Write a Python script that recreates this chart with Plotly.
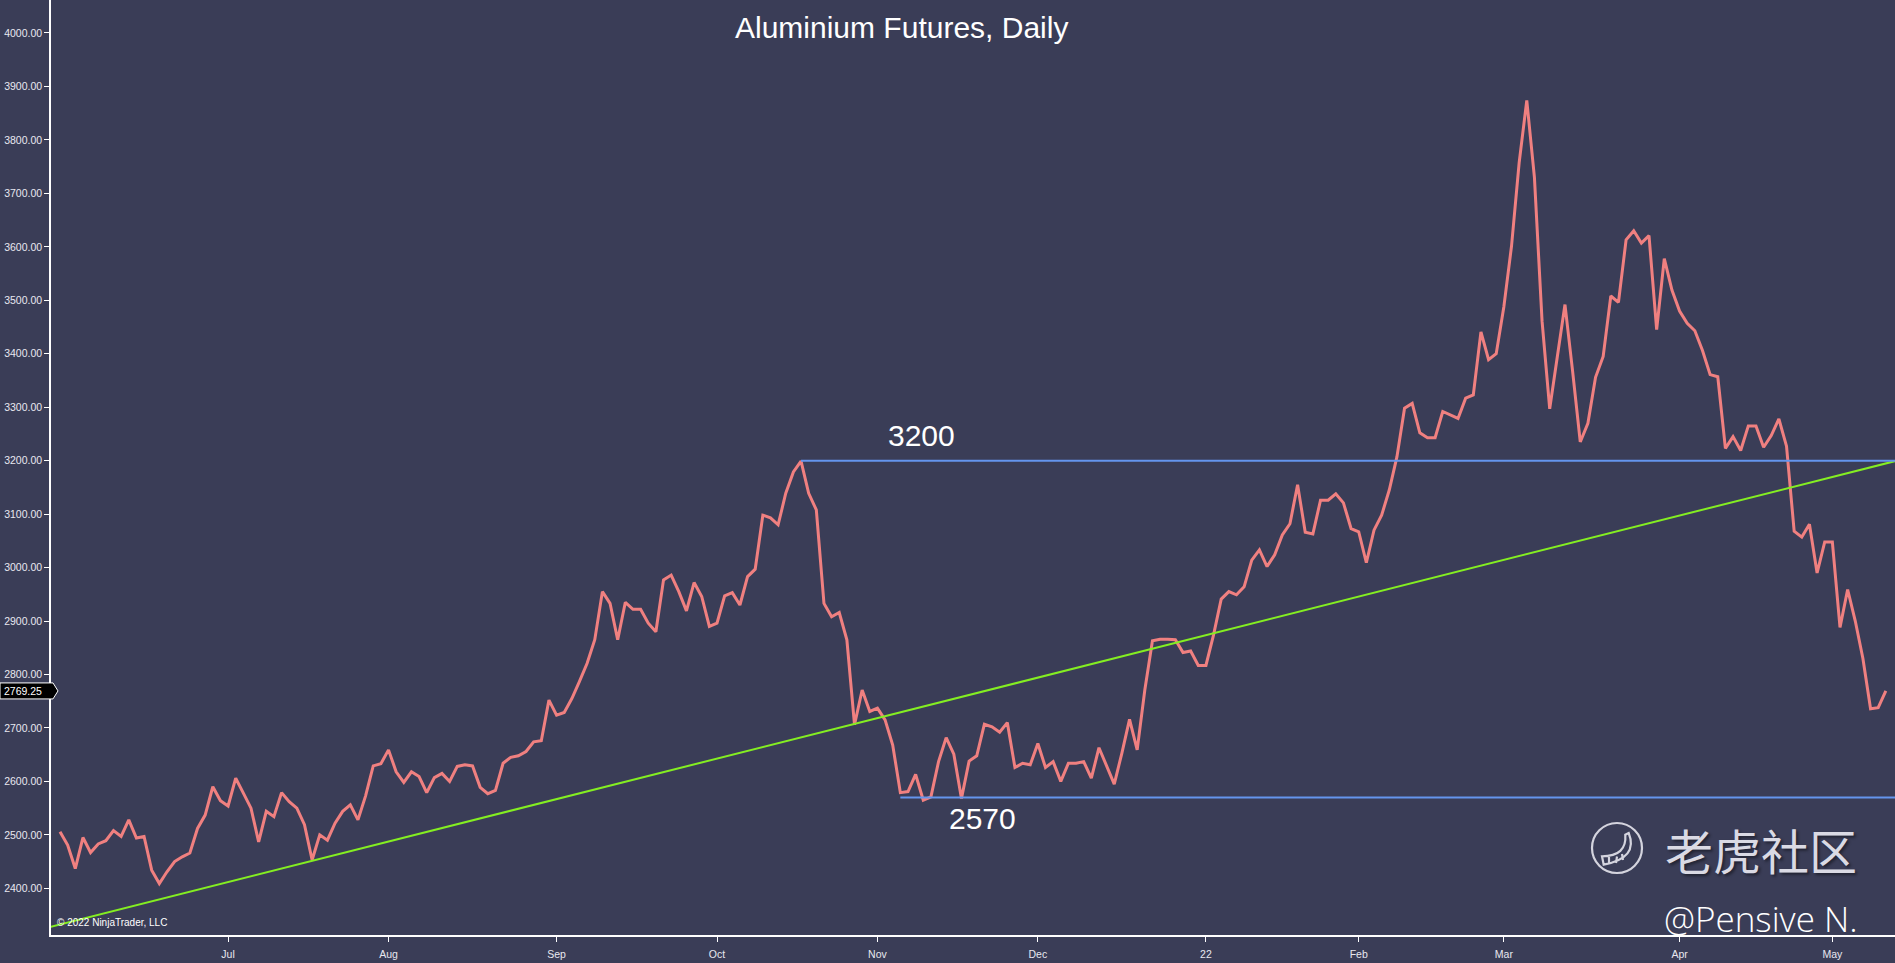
import pandas as pd
import plotly.graph_objects as go

BG = "#3a3d57"
PRICE_COLOR = "#f08080"
TREND_COLOR = "#84ee22"
LEVEL_COLOR = "#6495ed"
FONT = "Arial, Liberation Sans, sans-serif"

# trading calendar (weekdays minus US exchange holidays)
START_DAY = "2021-06-01"
END_DAY = "2022-05-11"
HOLIDAYS = ["2021-07-05", "2021-09-06", "2021-11-25", "2021-12-24",
            "2022-01-17", "2022-02-21", "2022-04-15"]
MONTH_TICK_TEXT = ["Jul", "Aug", "Sep", "Oct", "Nov", "Dec", "22", "Feb", "Mar", "Apr", "May"]

# daily close
CLOSE = [
    2506, 2481, 2437, 2495, 2467, 2483, 2489, 2508, 2497, 2528,
    2494, 2497, 2434, 2409, 2431, 2450, 2459, 2466, 2512, 2537,
    2590, 2564, 2554, 2606, 2578, 2550, 2487, 2544, 2534, 2579,
    2562, 2550, 2519, 2453, 2500, 2490, 2522, 2544, 2556, 2528,
    2573, 2629, 2633, 2659, 2618, 2598, 2618, 2609, 2579, 2607,
    2615, 2600, 2628, 2631, 2629, 2589, 2577, 2583, 2634, 2645,
    2648, 2656, 2674, 2676, 2752, 2724, 2729, 2755, 2787, 2821,
    2865, 2955, 2933, 2865, 2935, 2922, 2922, 2896, 2880, 2977,
    2986, 2955, 2919, 2972, 2946, 2890, 2896, 2947, 2953, 2930,
    2983, 2997, 3098, 3093, 3080, 3139, 3179, 3199, 3139, 3108,
    2933, 2908, 2916, 2865, 2706, 2771, 2731, 2737, 2715, 2668,
    2579, 2581, 2613, 2565, 2571, 2637, 2682, 2651, 2568, 2638,
    2648, 2707, 2702, 2692, 2710, 2626, 2634, 2631, 2671, 2626,
    2637, 2600, 2634, 2634, 2637, 2606, 2663, 2628, 2595, 2653,
    2716, 2659, 2771, 2863, 2866, 2866, 2865, 2841, 2844, 2817,
    2817, 2874, 2941, 2955, 2949, 2964, 3014, 3033, 3002, 3024,
    3061, 3082, 3155, 3066, 3063, 3126, 3126, 3138, 3121, 3073,
    3067, 3009, 3070, 3098, 3145, 3207, 3298, 3307, 3252, 3243,
    3243, 3292, 3285, 3279, 3317, 3323, 3441, 3389, 3400, 3488,
    3601, 3757, 3874, 3730, 3461, 3297, 3395, 3492, 3367, 3235,
    3270, 3356, 3395, 3508, 3496, 3613, 3630, 3607, 3621, 3445,
    3578, 3519, 3480, 3457, 3443, 3406, 3361, 3357, 3223, 3245,
    3219, 3265, 3265, 3225, 3247, 3278, 3227, 3068, 3057, 3081,
    2990, 3048, 3048, 2888, 2959, 2900, 2830, 2736, 2738, 2769.25,
]
LAST_PRICE = 2769.25

RESISTANCE = 3200
RESISTANCE_FROM = "2021-10-18"
SUPPORT = 2570
SUPPORT_FROM = "2021-11-04"
TREND_X = [-1.2, 241]
TREND_Y = [2328, 3202]

Y_TICKS = list(range(2400, 4001, 100))

dates = pd.bdate_range(START_DAY, END_DAY).drop(pd.to_datetime(HOLIDAYS))
assert len(dates) == len(CLOSE)
bars = list(range(len(CLOSE)))
month_starts = [i for i in range(1, len(dates)) if dates[i].month != dates[i - 1].month]
res_start = dates.get_loc(pd.Timestamp(RESISTANCE_FROM))
sup_start = dates.get_loc(pd.Timestamp(SUPPORT_FROM))

W, H = 1895, 963
ML, MB = 51, 28
PW, PH = W - ML, H - MB


def px(x, y):
    # page pixel -> paper coords
    return (x - ML) / PW, (PH - y) / PH


fig = go.Figure()
fig.add_trace(go.Scatter(
    x=bars, y=CLOSE, mode="lines",
    line=dict(color=PRICE_COLOR, width=3),
    hoverinfo="skip", showlegend=False,
))

shapes = [
    dict(type="line", xref="x", yref="y", x0=TREND_X[0], x1=TREND_X[1],
         y0=TREND_Y[0], y1=TREND_Y[1], line=dict(color=TREND_COLOR, width=2)),
    dict(type="line", xref="x", yref="y", x0=res_start, x1=250,
         y0=RESISTANCE, y1=RESISTANCE, line=dict(color=LEVEL_COLOR, width=2)),
    dict(type="line", xref="x", yref="y", x0=sup_start, x1=250,
         y0=SUPPORT, y1=SUPPORT, line=dict(color=LEVEL_COLOR, width=2)),
    # last price marker on the y axis
    dict(type="path", xref="paper", xsizemode="pixel", xanchor=0,
         yref="y", ysizemode="pixel", yanchor=LAST_PRICE,
         path="M -51 8 L 2 8 L 7 0 L 2 -8 L -51 -8 Z",
         fillcolor="black", line=dict(color="white", width=1)),
]

# watermark logo (circle + tail)
cx, cy = -278, 87
logo = dict(xref="paper", xsizemode="pixel", xanchor=1,
            yref="paper", ysizemode="pixel", yanchor=0,
            line=dict(color="#d4d4de", width=2.2))
shapes.append(dict(type="circle", x0=cx - 25, x1=cx + 25, y0=cy - 25, y1=cy + 25, **logo))
tail = (f"M {cx+11.7} {cy+15} Q {cx+21.7} {cy-10} {cx-13.3} {cy-16.7} "
        f"L {cx-15} {cy-8.3} Q {cx+10} {cy-8.3} {cx+8.3} {cy+13.3} Z "
        f"M {cx-8} {cy-16} L {cx-8} {cy-9} M {cx-1} {cy-15} L {cx} {cy-8.5} "
        f"M {cx+6} {cy-12} L {cx+5} {cy-6}")
shapes.append(dict(type="path", path=tail, **logo))

annotations = []
tx, ty = px(901, 27)
annotations.append(dict(text="Aluminium Futures, Daily", xref="paper", yref="paper",
                        x=tx, y=ty, showarrow=False, xanchor="center", yanchor="middle",
                        font=dict(family=FONT, size=30, color="white")))
annotations.append(dict(text="3200", x=112.8, y=3248, xref="x", yref="y", showarrow=False,
                        font=dict(family=FONT, size=30, color="white")))
annotations.append(dict(text="2570", x=120.7, y=2531, xref="x", yref="y", showarrow=False,
                        font=dict(family=FONT, size=30, color="white")))
annotations.append(dict(text=f"{LAST_PRICE:.2f}", xref="paper", yref="y", x=0, y=LAST_PRICE,
                        xanchor="right", yanchor="middle", xshift=-7, showarrow=False,
                        font=dict(family=FONT, size=10.5, color="white")))
cx_, cy_ = px(55, 922.5)
annotations.append(dict(text="© 2022 NinjaTrader, LLC", xref="paper", yref="paper",
                        x=cx_, y=cy_, xanchor="left", yanchor="middle", showarrow=False,
                        font=dict(family=FONT, size=10, color="white")))
wx, wy = px(1761, 849)
annotations.append(dict(text="老虎社区", xref="paper", yref="paper", x=wx, y=wy,
                        xanchor="center", yanchor="middle", showarrow=False,
                        font=dict(family="Noto Sans CJK SC", size=48, color="#dadae4",
                                  shadow="2px 2px 3px rgba(0,0,0,0.45)")))
ax, ay = px(1761, 918)
annotations.append(dict(text="@Pensive N.", xref="paper", yref="paper", x=ax, y=ay,
                        xanchor="center", yanchor="middle", showarrow=False,
                        font=dict(family="Open Sans", size=35, color="white", weight=300)))

fig.update_layout(
    width=W, height=H,
    paper_bgcolor=BG, plot_bgcolor=BG,
    margin=dict(l=ML, r=0, t=0, b=MB),
    font=dict(family=FONT, size=10.5, color="#e8e8f0"),
    showlegend=False,
    shapes=shapes,
    annotations=annotations,
    xaxis=dict(
        range=[-1.18, 240.2], showgrid=False, zeroline=False,
        showline=True, linecolor="white", linewidth=1.5,
        tickmode="array", tickvals=month_starts, ticktext=MONTH_TICK_TEXT,
        ticks="outside", ticklen=5, tickcolor="white", tickwidth=1,
        ticklabelstandoff=4,
    ),
    yaxis=dict(
        range=[2312.7, 4061.7], showgrid=False, zeroline=False,
        showline=True, linecolor="white", linewidth=1.5,
        tickmode="array", tickvals=Y_TICKS, tickformat=".2f",
        ticks="outside", ticklen=5, tickcolor="white", tickwidth=1,
    ),
)

fig.write_html("out.html", config={"displayModeBar": False},
               post_script="document.body.style.margin='0';document.body.style.overflow='hidden';")
